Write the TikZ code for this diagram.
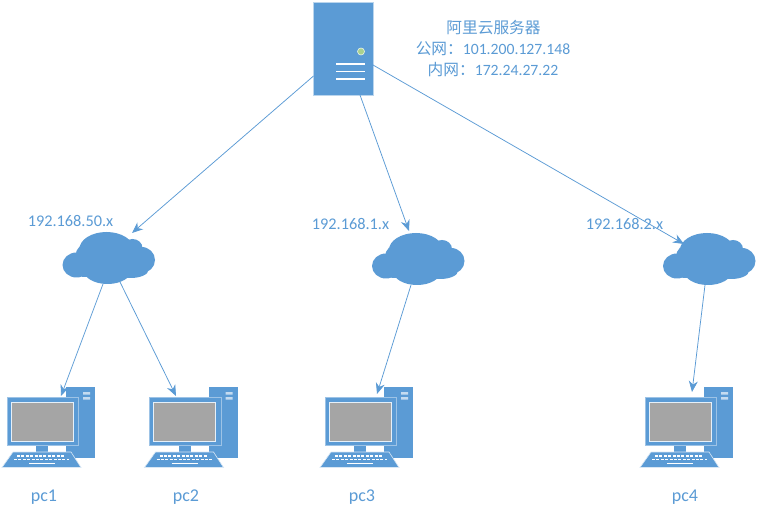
\documentclass[tikz,border=0pt]{standalone}
\usepackage{fontspec}
\setmainfont{Carlito}
\newfontfamily\cjk{Noto Sans CJK SC}
\usetikzlibrary{arrows.meta}
\definecolor{blu}{HTML}{5B9BD5}
\definecolor{ltb}{HTML}{9DC3E6}
\definecolor{scr}{HTML}{A5A5A5}
\definecolor{grn}{HTML}{A9D18E}
\tikzset{
  link/.style={draw=blu,line width=0.75pt,-{Stealth[length=11pt,width=9pt]}},
  lbl/.style={text=blu,font=\fontsize{16.3}{19}\selectfont,inner sep=0pt,anchor=center},
  pclbl/.style={text=blu,font=\fontsize{18}{21}\selectfont,inner sep=0pt,anchor=center},
  mixlbl/.style={text=blu,font=\fontsize{15.7}{19}\selectfont,inner sep=0pt,anchor=center},
  cnlbl/.style={text=blu,font=\fontsize{15.7}{19}\selectfont\cjk,inner sep=0pt,anchor=center},
  cloudpt/.style={inner sep=0pt,minimum width=92pt,minimum height=52pt},
  pc/.pic={
    \fill[blu] (66,387) rectangle (95,458);
    \fill[ltb!60!white] (83,392) rectangle (90,394.5) (83,397) rectangle (90,399.5);
    \fill[blu,draw=ltb,line width=1pt] (7,397) rectangle (78.5,445);
    \fill[scr,draw=white!75!ltb,line width=1pt] (11,402) rectangle (73,441);
    \fill[blu] (36,445.5) rectangle (48,452);
    \fill[blu,draw=white!60!ltb,line width=0.6pt] (13,452) -- (71,452) -- (81,467.5) -- (2,467.5) -- cycle;
    \foreach \r/\a/\b in {456/17/65,459.5/14/69}{
      \draw[white,line width=1.6pt,dash pattern=on 3pt off 1.4pt] (\a,\r) -- (\b,\r);}
    \draw[white,line width=1.8pt] (29,463.5) -- (55,463.5);
  },
  cloudshape/.pic={
    \fill[blu] (-32,7) ellipse [x radius=14,y radius=12.5]
      (-2,-9) ellipse [x radius=27,y radius=17]
      (-1,12) ellipse [x radius=24,y radius=14]
      (33,2) ellipse [x radius=13.5,y radius=13]
      (24,-10) ellipse [x radius=10,y radius=9]
      (-20,-2) ellipse [x radius=13,y radius=13]
      (15,5) ellipse [x radius=22,y radius=14]
      (-24,12) ellipse [x radius=13,y radius=7]
      (22,12) ellipse [x radius=18,y radius=8];
  }
}
\begin{document}
\begin{tikzpicture}[x=1pt,y=-1pt]
\useasboundingbox (0,0) rectangle (757,518);
\fill[white] (0,0) rectangle (757,518);
% server
\node[fill=blu,draw=ltb!70!white,line width=0.5pt,minimum width=60pt,minimum height=93pt,inner sep=0pt] (srv) at (343,48.5) {};
\fill[grn,draw=white!80!grn,line width=0.6pt] (361,51.5) circle (3.5);
\draw[white,line width=1.6pt] (336,64) -- (365,64) (336,71.5) -- (365,71.5) (336,79) -- (365,79);
% clouds
\pic at (108.5,258) {cloudshape};
\pic at (418,259) {cloudshape};
\pic at (709,259) {cloudshape};
\node[cloudpt] (c1) at (108.5,258) {};
\node[cloudpt] (c2) at (418,259) {};
\node[cloudpt] (c3) at (709,259) {};
% pcs
\pic at (0,0) {pc};
\pic at (142.5,0) {pc};
\pic at (318,0) {pc};
\pic at (638,0) {pc};
% anchors of connectors
\coordinate (s1) at (313.5,76);
\coordinate (s2) at (360,95);
\coordinate (s3) at (373,65);
\coordinate (c1in) at (132,233);
\coordinate (c2in) at (409,231);
\coordinate (c3in) at (684,244);
\coordinate (c1a) at (103,284);
\coordinate (c1b) at (120,282);
\coordinate (c2o) at (411,285);
\coordinate (c3o) at (705,285);
\coordinate (p1) at (61,396);
\coordinate (p2) at (176,396);
\coordinate (p3) at (377,394);
\coordinate (p4) at (692,392);
\draw[link] (s1) -- (c1in);
\draw[link] (s2) -- (c2in);
\draw[link] (s3) -- (c3in);
\draw[link] (c1a) -- (p1);
\draw[link] (c1b) -- (p2);
\draw[link] (c2o) -- (p3);
\draw[link] (c3o) -- (p4);
% labels
\node[cnlbl] (t1) at (493.5,28) {阿里云服务器};
\node[mixlbl] (t2) at (493,48.5) {{\cjk 公网：}101.200.127.148};
\node[mixlbl] (t3) at (493,70) {{\cjk 内网：}172.24.27.22};
\node[lbl] (n1) at (70.5,221) {192.168.50.x};
\node[lbl] (n2) at (350.5,224) {192.168.1.x};
\node[lbl] (n3) at (624.5,224) {192.168.2.x};
\node[pclbl] (l1) at (44,497) {pc1};
\node[pclbl] (l2) at (186,497) {pc2};
\node[pclbl] (l3) at (362,497) {pc3};
\node[pclbl] (l4) at (685,497) {pc4};
\end{tikzpicture}
\end{document}
